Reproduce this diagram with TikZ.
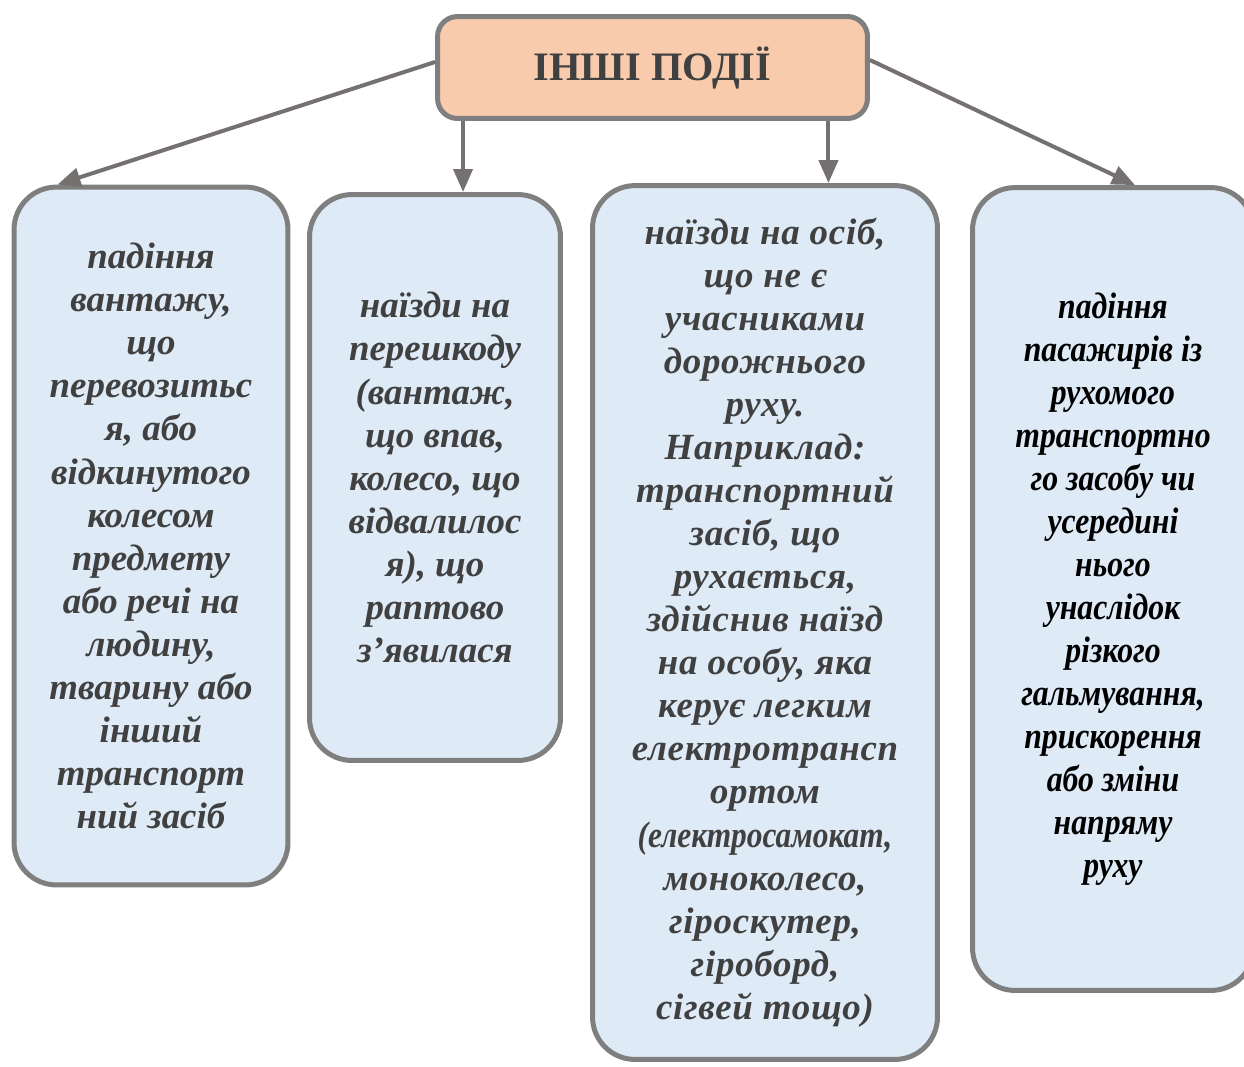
\documentclass[tikz,border=0pt]{standalone}
\usepackage{fontspec}
\setmainfont{Liberation Serif}
\newfontfamily\wideface{Liberation Serif}[LetterSpace=2]
\newfontfamily\slimface{Liberation Serif}[FakeStretch=0.85]
\newfontfamily\narrowface{Liberation Serif}[FakeStretch=0.86]
\usepackage{xcolor}
\usetikzlibrary{shapes, arrows.meta}

\definecolor{headfill}{RGB}{247,203,172}
\definecolor{itemfill}{RGB}{222,234,246}
\definecolor{rimgray}{RGB}{127,127,127}
\definecolor{linkgray}{RGB}{118,113,113}
\definecolor{inkgray}{RGB}{64,64,64}

\begin{document}
\begin{tikzpicture}[x=0.02cm, y=-0.02cm]

\tikzstyle{head} = [rectangle, rounded corners=0.4cm, draw=rimgray, line width=0.1cm, fill=headfill, text=inkgray, font=\fontsize{23}{27}\selectfont\bfseries, minimum width=8.6cm, minimum height=2.04cm]
\tikzstyle{item} = [rectangle, rounded corners=0.85cm, draw=rimgray, line width=0.1cm, fill=itemfill, text=inkgray, align=center, inner sep=0pt, font=\fontsize{21}{24.5}\selectfont\bfseries\itshape]
\tikzstyle{arrow} = [line width=0.08cm, draw=linkgray, -{Triangle[length=0.46cm, width=0.38cm]}]

\useasboundingbox (0,0) rectangle (1244,1066);
\clip (0,0) rectangle (1244,1066);

\node (top) [head] at (652.5,67.5) {ІНШІ ПОДІЇ};

\node (cargo) [item, minimum width=5.48cm, minimum height=13.96cm] at (151,536)
  {падіння\\вантажу,\\що\\перевозитьс\\я, або\\відкинутого\\колесом\\предмету\\або речі на\\людину,\\тварину або\\інший\\транспорт\\ний засіб};
\node (obstacle) [item, minimum width=5.02cm, minimum height=11.32cm] at (435,477.5)
  {наїзди на\\перешкоду\\(вантаж,\\що впав,\\колесо, що\\відвалилос\\я), що\\раптово\\з’явилася};
\node (persons) [item, minimum width=6.9cm, minimum height=17.48cm, font=\fontsize{21}{24.5}\selectfont\bfseries\itshape\wideface] at (765,622.5)
  {наїзди на осіб,\\що не є\\учасниками\\дорожнього\\руху.\\Наприклад:\\транспортний\\засіб, що\\рухається,\\здійснив наїзд\\на особу, яка\\керує легким\\електротрансп\\ортом\\{\slimface (електросамокат,}\\моноколесо,\\гіроскутер,\\гіроборд,\\сігвей тощо)};
\node (riders) [item, minimum width=5.62cm, minimum height=16.06cm, text=black, font=\fontsize{21}{24.5}\selectfont\bfseries\itshape\narrowface] at (1113,589)
  {падіння\\пасажирів із\\рухомого\\транспортно\\го засобу чи\\усередині\\нього\\унаслідок\\різкого\\гальмування,\\прискорення\\або зміни\\напряму\\руху};

\draw [arrow] ([yshift=0.11cm]top.west) -- ([xshift=0.92cm]cargo.north west);
\draw [arrow] ([xshift=0.56cm]top.south west) -- ([xshift=0.56cm]top.south west |- obstacle.north);
\draw [arrow] ([xshift=-0.83cm]top.south east) -- ([xshift=-0.83cm]top.south east |- persons.north);
\draw [arrow] ([yshift=0.15cm]top.east) -- ([xshift=0.44cm]riders.north);
\end{tikzpicture}
\end{document}
